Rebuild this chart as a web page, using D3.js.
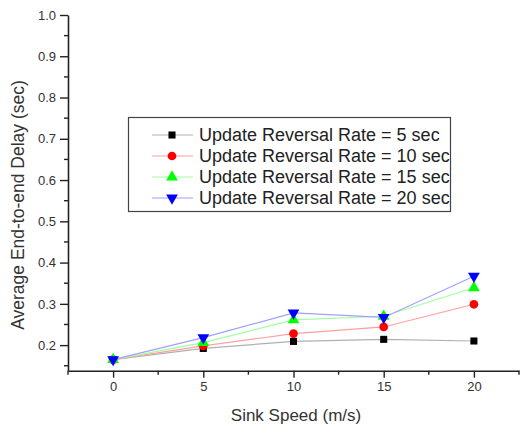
<!DOCTYPE html>
<html><head><meta charset="utf-8">
<script src="https://cdn.jsdelivr.net/npm/d3@7"></script>
<style>body{margin:0;background:#fff;} svg{display:block;font-family:"Liberation Sans",Arial,sans-serif;}</style>
</head><body>
<script>
const speeds = [0, 5, 10, 15, 20];
const rate5 = [0.165, 0.192, 0.209, 0.214, 0.210];
const rate10 = [0.165, 0.198, 0.228, 0.244, 0.299];
const rate15 = [0.165, 0.206, 0.261, 0.270, 0.339];
const rate20 = [0.165, 0.218, 0.278, 0.267, 0.367];
const seriesNames = ["Update Reversal Rate = 5 sec","Update Reversal Rate = 10 sec","Update Reversal Rate = 15 sec","Update Reversal Rate = 20 sec"];
const yTicks = [0.2,0.3,0.4,0.5,0.6,0.7,0.8,0.9,1.0];
const xTicks = [0,5,10,15,20];

const series = [
  {name: seriesNames[0], values: rate5, color:"#000000", line:"#b0b0b0", sym:d3.symbolSquare, size:50, rot:0},
  {name: seriesNames[1], values: rate10, color:"#ff0000", line:"#ffa0a0", sym:d3.symbolCircle, size:60, rot:0},
  {name: seriesNames[2], values: rate15, color:"#00ff00", line:"#a0ffa0", sym:d3.symbolTriangle, size:60, rot:0},
  {name: seriesNames[3], values: rate20, color:"#0000ff", line:"#a0a0ff", sym:d3.symbolTriangle, size:60, rot:180}
];

const W=521,H=424;
const svg=d3.select("body").append("svg").attr("width",W).attr("height",H);
const x=d3.scaleLinear().domain([-2.5,22.5]).range([68,519]);
const y=d3.scaleLinear().domain([0.138,1.0]).range([370.7,15]);

// y axis
const yAxis=d3.axisLeft(y).tickValues(yTicks).tickFormat(d3.format(".1f")).tickSize(8).tickSizeOuter(0);
const gy=svg.append("g").attr("transform","translate(68,0)").call(yAxis);
gy.select(".domain").attr("stroke","#222").attr("stroke-width",1.6);
gy.selectAll(".tick line").attr("stroke","#222").attr("stroke-width",1.4);
gy.selectAll(".tick text").attr("font-size",13).attr("fill","#333").attr("x",-12);
const yMinor=d3.range(0.15,1.0,0.1);
gy.selectAll(".minor").data(yMinor).enter().append("line").attr("class","minor")
  .attr("x1",-4).attr("x2",0).attr("y1",d=>y(d)).attr("y2",d=>y(d)).attr("stroke","#222").attr("stroke-width",1.4);

// x axis
const xAxis=d3.axisBottom(x).tickValues(xTicks).tickSize(7).tickSizeOuter(0);
const gx=svg.append("g").attr("transform","translate(0,370.7)").call(xAxis);
gx.select(".domain").attr("stroke","#222").attr("stroke-width",1.6);
gx.selectAll(".tick line").attr("stroke","#222").attr("stroke-width",1.4);
gx.selectAll(".tick text").attr("font-size",13).attr("fill","#333").attr("y",11);
const xMinor=[-2.5,2.5,7.5,12.5,17.5,22.5];
gx.selectAll(".minor").data(xMinor).enter().append("line").attr("class","minor")
  .attr("x1",d=>x(d)).attr("x2",d=>x(d)).attr("y1",0).attr("y2",4).attr("stroke","#222").attr("stroke-width",1.4);

// axis titles
svg.append("text").attr("x",296).attr("y",421).attr("text-anchor","middle").attr("font-size",17).attr("fill","#333").text("Sink Speed (m/s)");
svg.append("text").attr("transform","translate(24,205) rotate(-90)").attr("text-anchor","middle").attr("font-size",17.5).attr("fill","#333").text("Average End-to-end Delay (sec)");

// lines & markers
const line=d3.line().x((d,i)=>x(speeds[i])).y(d=>y(d));
series.forEach(s=>{
  svg.append("path").datum(s.values).attr("d",line).attr("fill","none").attr("stroke",s.line).attr("stroke-width",1.2);
});
series.forEach(s=>{
  svg.selectAll(null).data(s.values).enter().append("path")
    .attr("d",d3.symbol().type(s.sym).size(s.size))
    .attr("transform",(d,i)=>`translate(${x(speeds[i])},${y(d)}) rotate(${s.rot})`)
    .attr("fill",s.color);
});

// legend
const lg=svg.append("g");
lg.append("rect").attr("x",128.5).attr("y",117.5).attr("width",322).attr("height",94).attr("fill","#fff").attr("stroke","#444").attr("stroke-width",1.2);
const rowY=[135,156,177,198];
series.forEach((s,i)=>{
  lg.append("line").attr("x1",152).attr("x2",193).attr("y1",rowY[i]).attr("y2",rowY[i]).attr("stroke",s.line).attr("stroke-width",1.2);
  lg.append("path").attr("d",d3.symbol().type(s.sym).size(s.size)).attr("transform",`translate(172,${rowY[i]}) rotate(${s.rot})`).attr("fill",s.color);
  lg.append("text").attr("x",199).attr("y",rowY[i]).attr("dy","0.36em").attr("font-size",18).attr("fill","#222").text(s.name);
});
</script>
</body></html>
